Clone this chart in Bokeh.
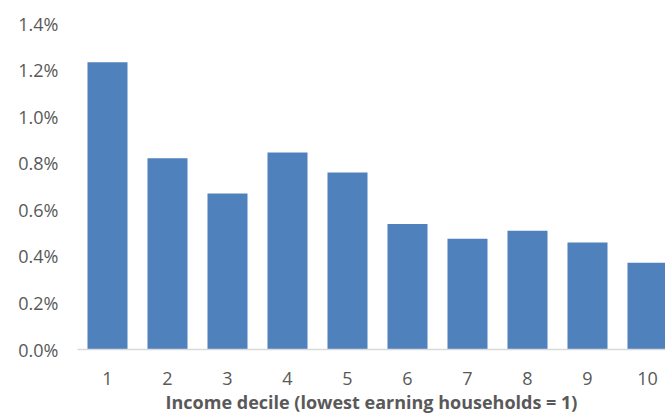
from bokeh.plotting import figure
from bokeh.models import Range1d, FixedTicker, ColumnDataSource, CustomJSTickFormatter
from bokeh.embed import file_html
from bokeh.resources import INLINE

deciles = [1, 2, 3, 4, 5, 6, 7, 8, 9, 10]
share_pct = [1.234, 0.821, 0.670, 0.846, 0.760, 0.539, 0.476, 0.510, 0.459, 0.373]
y_ticks = [0.0, 0.2, 0.4, 0.6, 0.8, 1.0, 1.2, 1.4]
x_title = "Income decile (lowest earning households = 1)"

src = ColumnDataSource(dict(x=deciles, top=share_pct))

p = figure(width=665, height=416, output_backend="svg", toolbar_location=None,
           x_range=Range1d(0.5, 10.3), y_range=Range1d(0, 1.4),
           min_border_left=77, min_border_right=0, min_border_top=23, min_border_bottom=67)
p.outline_line_color = None
p.background_fill_color = "white"
p.border_fill_color = "white"
p.grid.visible = False

p.vbar(x="x", top="top", width=0.667, source=src, fill_color="#4F81BD", line_color=None)

FONT = "Open Sans"
GRAY = "#595959"

xa = p.xaxis[0]
xa.ticker = FixedTicker(ticks=deciles)
xa.major_tick_line_color = None
xa.minor_tick_line_color = None
xa.axis_line_color = "#D9D9D9"
xa.axis_line_width = 1.5
xa.major_label_text_font = FONT
xa.major_label_text_font_size = "18px"
xa.major_label_text_color = GRAY
xa.major_label_standoff = 16
xa.axis_label = x_title
xa.axis_label_text_font = FONT
xa.axis_label_text_font_size = "18px"
xa.axis_label_text_font_style = "bold"
xa.axis_label_text_color = GRAY
xa.axis_label_standoff = 2

ya = p.yaxis[0]
ya.ticker = FixedTicker(ticks=y_ticks)
ya.formatter = CustomJSTickFormatter(code="return tick.toFixed(1) + '%';")
ya.axis_line_color = None
ya.major_tick_line_color = None
ya.minor_tick_line_color = None
ya.major_label_text_font = FONT
ya.major_label_text_font_size = "18px"
ya.major_label_text_color = GRAY
ya.major_label_standoff = 13

open("out.html", "w").write(file_html(p, INLINE))
